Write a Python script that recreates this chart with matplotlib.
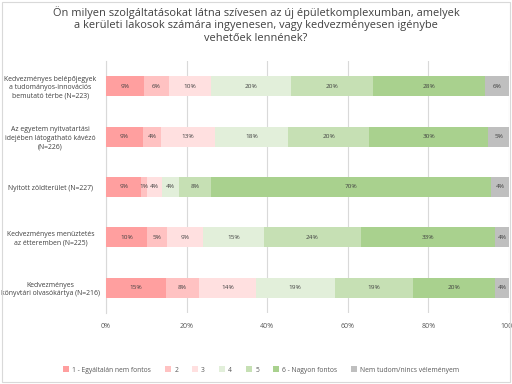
import matplotlib
matplotlib.use("Agg")
import matplotlib.pyplot as plt
import numpy as np
from matplotlib.patches import Rectangle

plt.rcParams['font.family'] = ['Open Sans', 'DejaVu Sans']

title = ("Ön milyen szolgáltatásokat látna szívesen az új épületkomplexumban, amelyek\n"
         "a kerületi lakosok számára ingyenesen, vagy kedvezményesen igénybe\n"
         "vehetőek lennének?")

categories = [
    "Kedvezményes belépőjegyek\na tudományos-innovációs\nbemutató térbe (N=223)",
    "Az egyetem nyitvatartási\nidejében látogatható kávézó\n(N=226)",
    "Nyitott zöldterület (N=227)",
    "Kedvezményes menüztetés\naz étteremben (N=225)",
    "Kedvezményes\nkönyvtári olvasókártya (N=216)",
]

series_names = ["1 - Egyáltalán nem fontos", "2", "3", "4", "5",
                "6 - Nagyon fontos", "Nem tudom/nincs véleményem"]

# values per series (one per category), in percent
s1 = [9.4, 9.1, 8.8, 10.2, 14.8]
s2 = [6.3, 4.6, 1.4, 4.9, 8.4]
s3 = [10.4, 13.4, 3.6, 9.0, 13.9]
s4 = [19.8, 18.1, 4.3, 15.2, 19.6]
s5 = [20.3, 20.1, 8.0, 23.9, 19.5]
s6 = [27.8, 29.6, 69.5, 33.4, 20.4]
s7 = [6.0, 5.1, 4.4, 3.4, 3.4]

# labels as shown
l1 = ["9%", "9%", "9%", "10%", "15%"]
l2 = ["6%", "4%", "1%", "5%", "8%"]
l3 = ["10%", "13%", "4%", "9%", "14%"]
l4 = ["20%", "18%", "4%", "15%", "19%"]
l5 = ["20%", "20%", "8%", "24%", "19%"]
l6 = ["28%", "30%", "70%", "33%", "20%"]
l7 = ["6%", "5%", "4%", "4%", "4%"]

xticks = [0, 20, 40, 60, 80, 100]
xticklabels = ["0%", "20%", "40%", "60%", "80%", "100%"]

colors = ["#FF9F9F", "#FFC2C2", "#FFE0E0", "#E2EFDA", "#C6E0B4", "#A9D18E", "#BFBFBF"]

series = [s1, s2, s3, s4, s5, s6, s7]
labels = [l1, l2, l3, l4, l5, l6, l7]

fig = plt.figure(figsize=(5.12, 3.84), dpi=100)
ax = fig.add_axes([106/512, 1 - 313/384, (509-106)/512, (313-61)/384])

y = np.arange(len(categories))
left = np.zeros(len(categories))
for vals, labs, col, name in zip(series, labels, colors, series_names):
    vals = np.array(vals)
    ax.barh(y, vals, left=left, height=0.4, color=col, label=name, zorder=3)
    for yi, (v, l, lf) in enumerate(zip(vals, labs, left)):
        ax.text(lf + v / 2, yi, l, ha='center', va='center', fontsize=4.6,
                color='#404040', zorder=4)
    left += vals

ax.set_xlim(0, 100)
ax.set_ylim(len(categories) - 0.5, -0.5)
ax.set_yticks(y)
ax.set_yticklabels(categories, fontsize=4.95, color='#404040', ha='center',
                   linespacing=1.3)
ax.tick_params(axis='y', length=0, pad=40)
ax.set_xticks(xticks)
ax.set_xticklabels(xticklabels, fontsize=5.0, color='#595959')
ax.tick_params(axis='x', length=0, pad=7)
ax.grid(axis='x', color='#D9D9D9', linewidth=0.8, zorder=0)
for sp in ['top', 'right', 'bottom']:
    ax.spines[sp].set_visible(False)
ax.spines['left'].set_color('#D9D9D9')
ax.spines['left'].set_linewidth(0.8)

fig.text(0.5, 0.985, title, ha='center', va='top', fontsize=7.9, color='#404040',
         linespacing=1.22)

leg = fig.legend(loc='center', bbox_to_anchor=(0.51, 1 - 370/384), ncol=7,
                 frameon=False, fontsize=4.9, handlelength=0.9, handleheight=0.9,
                 columnspacing=2.0, handletextpad=0.5, labelcolor='#595959')

fig.patches.append(Rectangle((2/512, 2/384), 508/512, 380/384, transform=fig.transFigure,
                             fill=False, edgecolor='#D9D9D9', linewidth=0.8))

fig.savefig("out.png", dpi=100)
